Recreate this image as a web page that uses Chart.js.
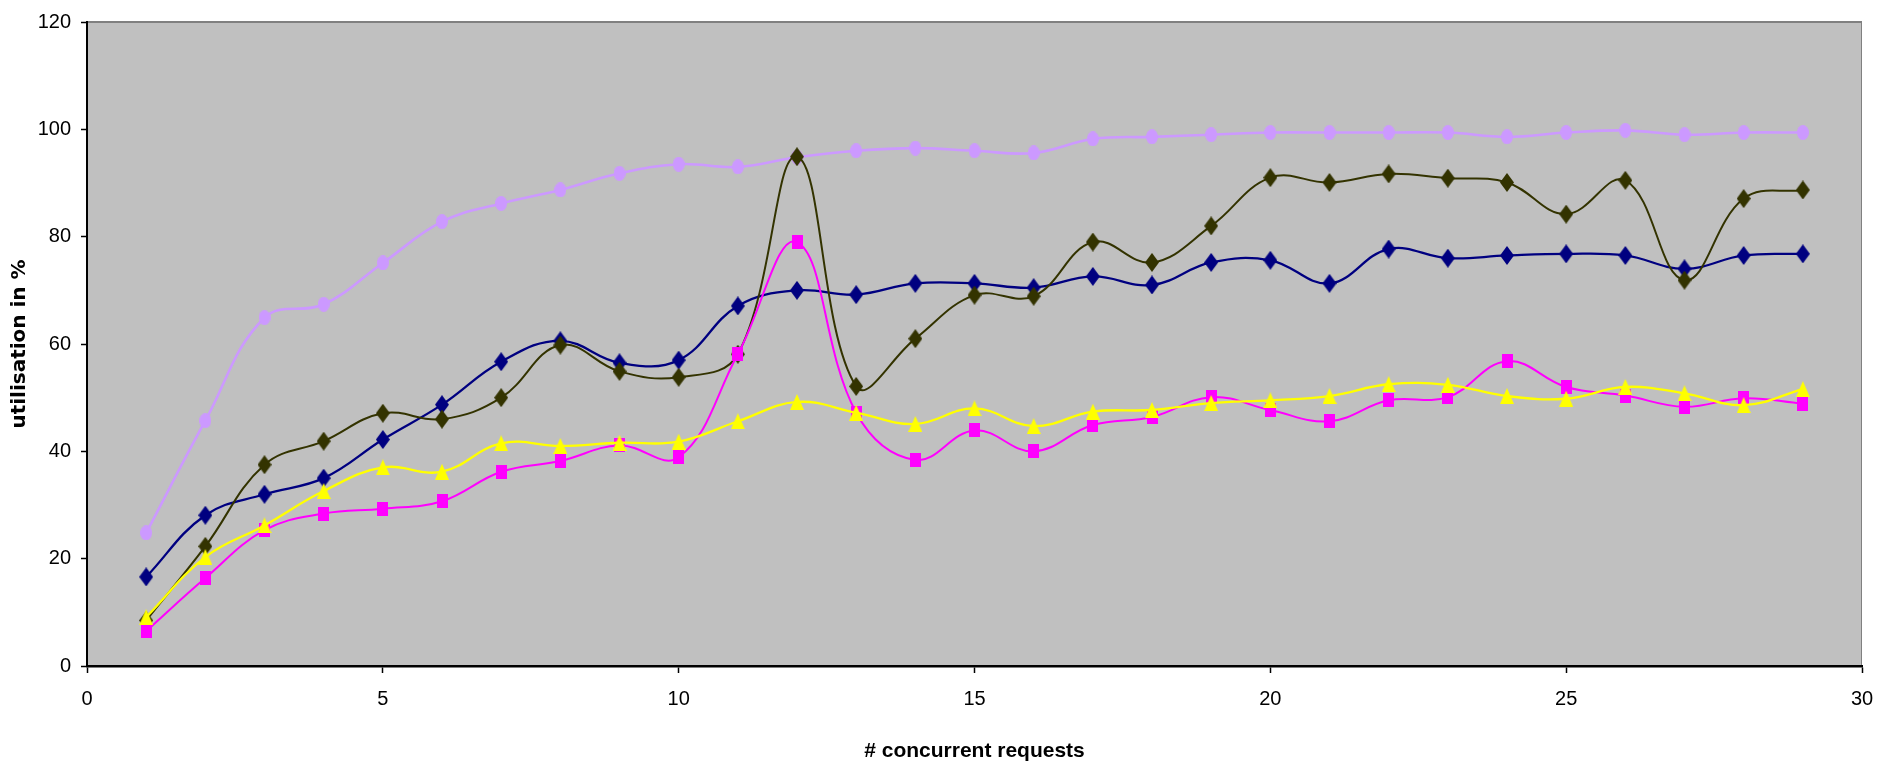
<!DOCTYPE html>
<html>
<head>
<meta charset="utf-8">
<title>utilisation</title>
<script src="https://cdn.jsdelivr.net/npm/chart.js@4.4.1/dist/chart.umd.min.js"></script>
<style>
  html, body { margin: 0; padding: 0; background: #fff; }
  #chart { display: block; }
</style>
</head>
<body>
<canvas id="chart" width="1879" height="771"></canvas>
<script>
// concurrent requests (x values)
const requests = [1, 2, 3, 4, 5, 6, 7, 8, 9, 10, 11, 12, 13, 14, 15, 16, 17, 18, 19, 20, 21, 22, 23, 24, 25, 26, 27, 28, 29];

// utilisation in % per series
const seriesLilac = [24.8, 45.7, 64.9, 67.4, 75.1, 82.8, 86.2, 88.7, 91.8, 93.5, 93.0, 94.8, 96.0, 96.5, 96.0, 95.6, 98.2, 98.6, 99.0, 99.4, 99.4, 99.4, 99.4, 98.6, 99.4, 99.8, 99.0, 99.4, 99.4];
const seriesOlive = [8.5, 22.3, 37.5, 41.9, 47.1, 46.0, 50.0, 59.8, 54.9, 53.8, 58.1, 94.9, 52.1, 61.0, 69.1, 68.9, 79.0, 75.2, 82.0, 91.0, 90.1, 91.7, 90.9, 90.1, 84.2, 90.5, 71.9, 87.1, 88.7];
const seriesNavy = [16.6, 28.1, 32.0, 35.0, 42.2, 48.7, 56.7, 60.6, 56.5, 57.0, 67.1, 70.0, 69.2, 71.3, 71.3, 70.5, 72.6, 71.0, 75.2, 75.6, 71.3, 77.7, 76.0, 76.5, 76.8, 76.5, 74.0, 76.5, 76.8];
const seriesMagenta = [6.5, 16.4, 25.3, 28.4, 29.3, 30.7, 36.2, 38.2, 41.1, 38.9, 58.1, 79.0, 47.2, 38.4, 43.9, 40.0, 44.9, 46.4, 50.1, 47.7, 45.6, 49.5, 50.1, 56.8, 52.0, 50.4, 48.3, 49.9, 48.9];
const seriesYellow = [9.1, 20.3, 26.2, 32.6, 37.0, 36.2, 41.5, 41.0, 41.6, 41.8, 45.6, 49.2, 47.2, 45.1, 48.0, 44.7, 47.4, 47.7, 49.0, 49.5, 50.3, 52.5, 52.4, 50.3, 49.8, 52.0, 50.8, 48.6, 51.6];

// axis ticks
const xTicks = [0, 5, 10, 15, 20, 25, 30];
const yTicks = [0, 20, 40, 60, 80, 100, 120];

// Excel style markers are a bit taller than wide, so draw them on small canvases
function makeMarker(shape, w, h, color) {
    const c = document.createElement('canvas');
    c.width = w;
    c.height = h;
    const g = c.getContext('2d');
    g.fillStyle = color;
    g.beginPath();
    if (shape === 'ellipse') {
        g.ellipse(w / 2, h / 2, w / 2, h / 2, 0, 0, Math.PI * 2);
    } else if (shape === 'diamond') {
        g.moveTo(w / 2, 0);
        g.lineTo(w, h / 2);
        g.lineTo(w / 2, h);
        g.lineTo(0, h / 2);
        g.closePath();
    } else if (shape === 'square') {
        g.rect(0, 0, w, h);
    } else if (shape === 'triangle') {
        g.moveTo(w / 2, 0);
        g.lineTo(w, h);
        g.lineTo(0, h);
        g.closePath();
    }
    g.fill();
    return c;
}

function toPoints(values) {
    return requests.map((x, i) => ({ x: x, y: values[i] }));
}

function serie(label, values, color, marker, width, order) {
    return {
        label: label,
        data: toPoints(values),
        borderColor: color,
        backgroundColor: color,
        borderWidth: width,
        pointStyle: marker,
        pointRadius: 7,
        tension: 0.4,
        order: order
    };
}

const plotFrame = {
    id: 'plotFrame',
    beforeDraw(chart) {
        const { ctx, chartArea: a } = chart;
        ctx.save();
        ctx.fillStyle = '#c0c0c0';
        ctx.fillRect(a.left, a.top, a.right - a.left, a.bottom - a.top);
        ctx.strokeStyle = '#808080';
        ctx.lineWidth = 2;
        ctx.beginPath();
        ctx.moveTo(a.left, a.top);
        ctx.lineTo(a.right, a.top);
        ctx.stroke();
        ctx.lineWidth = 1;
        ctx.beginPath();
        ctx.moveTo(a.right - 0.5, a.top);
        ctx.lineTo(a.right - 0.5, a.bottom);
        ctx.stroke();
        ctx.restore();
    }
};

const tickFont = { family: "'Liberation Sans', Arial, sans-serif", size: 20 };

new Chart(document.getElementById('chart'), {
    type: 'line',
    data: {
        datasets: [
            serie('series 1', seriesLilac, '#cc99ff', makeMarker('ellipse', 12, 15, '#cc99ff'), 2.6, 5),
            serie('series 2', seriesNavy, '#000080', makeMarker('diamond', 14, 19, '#000080'), 2.3, 4),
            serie('series 3', seriesOlive, '#333300', makeMarker('diamond', 14, 19, '#333300'), 2, 3),
            serie('series 4', seriesMagenta, '#ff00ff', makeMarker('square', 11, 14, '#ff00ff'), 2, 2),
            serie('series 5', seriesYellow, '#ffff00', makeMarker('triangle', 14, 16, '#ffff00'), 2.3, 1)
        ]
    },
    options: {
        responsive: false,
        animation: false,
        layout: { padding: { top: 22, right: 17, left: 0, bottom: 0 } },
        plugins: {
            legend: { display: false },
            tooltip: { enabled: false }
        },
        scales: {
            x: {
                type: 'linear',
                min: 0,
                max: 30,
                afterBuildTicks: s => { s.ticks = xTicks.map(v => ({ value: v })); },
                afterFit: s => {
                    s.height = 105;
                    s.paddingLeft = 0;
                    s.paddingRight = 0;
                },
                grid: { drawOnChartArea: false, drawTicks: true, tickLength: 7, tickColor: '#000', tickWidth: 1.5 },
                border: { color: '#000', width: 2.5 },
                ticks: { color: '#000', font: tickFont, padding: 14, maxRotation: 0 },
                title: {
                    display: true,
                    text: '# concurrent requests',
                    color: '#000',
                    font: { family: "'Liberation Sans', Arial, sans-serif", size: 21, weight: 'bold', lineHeight: 1.2 },
                    padding: { top: 0, bottom: 7 }
                }
            },
            y: {
                min: 0,
                max: 120,
                afterBuildTicks: s => { s.ticks = yTicks.map(v => ({ value: v })); },
                afterFit: s => { s.width = 87; },
                grid: { drawOnChartArea: false, drawTicks: true, tickLength: 6, tickColor: '#000', tickWidth: 1.5 },
                border: { color: '#000', width: 2 },
                ticks: { color: '#000', font: tickFont, padding: 10 },
                title: {
                    display: true,
                    text: 'utilisation in %',
                    color: '#000',
                    font: { family: "'DejaVu Sans', Verdana, sans-serif", size: 20, weight: 'bold', lineHeight: 1.2 },
                    padding: { top: 8, bottom: 0 }
                }
            }
        }
    },
    plugins: [plotFrame]
});
</script>
</body>
</html>
